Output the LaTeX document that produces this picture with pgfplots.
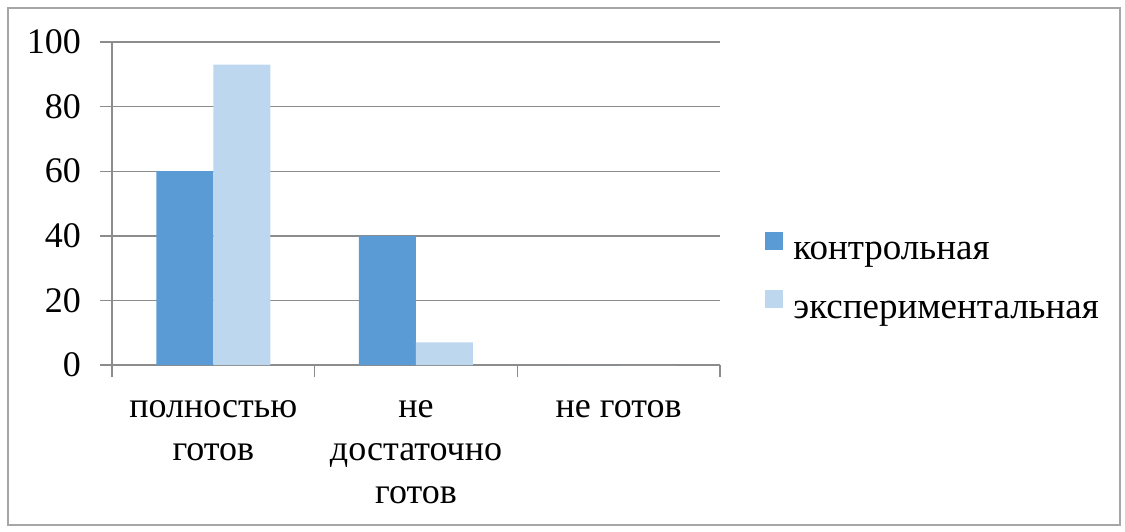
\documentclass[border=0pt]{standalone}
\usepackage{pgfplots}
\pgfplotsset{compat=1.18}
\usepackage{fontspec}
\setmainfont{Liberation Serif}
\definecolor{ctrl}{HTML}{5B9BD5}
\definecolor{expt}{HTML}{BDD7EE}
\definecolor{gridgray}{HTML}{8C8C8C}
\definecolor{framegray}{HTML}{A6A6A6}
\newcommand{\chartfont}{\fontsize{18}{21.5}\selectfont}
\newcommand{\legendfont}{\fontsize{18.5}{22}\selectfont}
\begin{document}
\begin{tikzpicture}
\useasboundingbox (-56pt,-83pt) rectangle (506.5pt,182.5pt);
\draw[framegray, line width=0.8pt] (-52pt,-80pt) rectangle (504pt,178.5pt);
\begin{axis}[
  at={(0pt,0pt)}, anchor=south west,
  scale only axis, width=304pt, height=161.5pt,
  ybar=0pt, bar width=28.5pt,
  xmin=-0.5, xmax=2.5, ymin=0, ymax=100,
  axis x line*=bottom, axis y line*=left,
  axis line style={gridgray, line width=0.7pt, -},
  tick align=outside,
  major tick length=6pt,
  tick style={gridgray, line width=0.7pt},
  ytick={0,20,...,100},
  ymajorgrids,
  major grid style={gridgray, line width=0.7pt},
  % tick marks at the category boundaries, names at the centres
  xtick={-0.5,0.5,1.5,2.5},
  xticklabels={},
  extra x ticks={0,1,2},
  extra x tick labels={{полностью\\готов},{не\\достаточно\\готов},{не готов}},
  extra x tick style={major tick length=0pt,
    xticklabel style={align=center, font=\chartfont, yshift=-14pt}},
  yticklabel style={font=\chartfont, xshift=-6pt},
  /pgf/number format/assume math mode=true,
  legend style={at={(1.074,0.268)}, anchor=west, draw=none, fill=none,
    inner sep=0pt, row sep=11.5pt, font=\legendfont,
    /tikz/every odd column/.append style={column sep=3pt}},
  legend cell align=left,
  legend image code/.code={\fill[#1, draw=none] (0pt,1.5pt) rectangle (9pt,10.5pt);},
]
\addplot[fill=ctrl, draw=none] coordinates {(0,60) (1,40) (2,0)};
\addplot[fill=expt, draw=none] coordinates {(0,93) (1,7) (2,0)};
\legend{контрольная, экспериментальная}
\end{axis}
\end{tikzpicture}
\end{document}
